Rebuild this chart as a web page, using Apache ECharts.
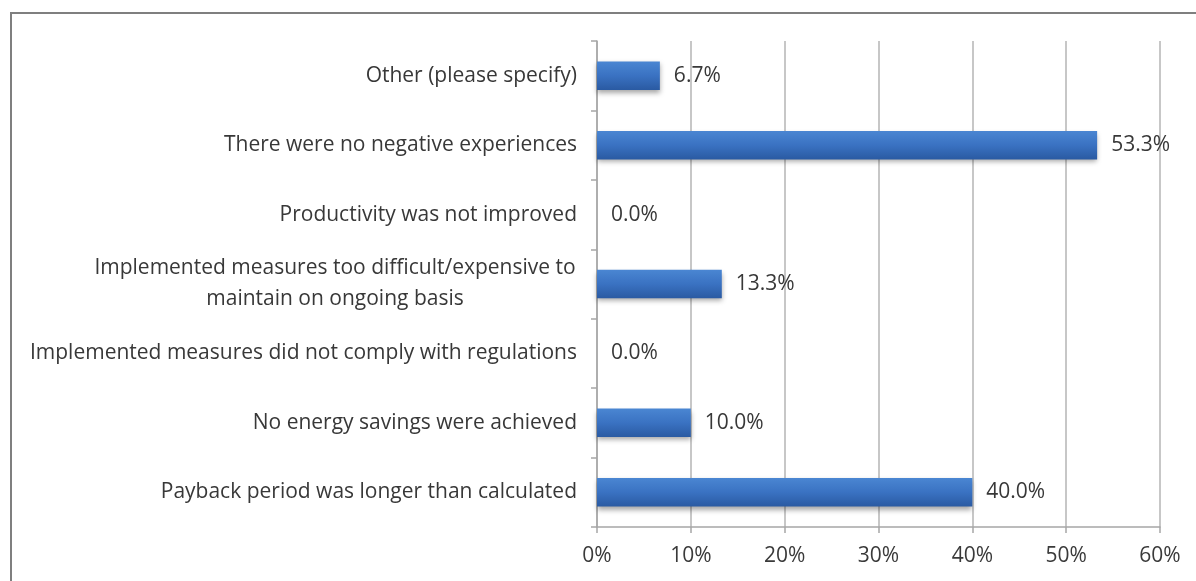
<!DOCTYPE html>
<html><head><meta charset="utf-8">
<script src="https://cdn.jsdelivr.net/npm/echarts@6/dist/echarts.min.js"></script>
<style>
html,body{margin:0;padding:0;background:#fff;}
#c{width:1196px;height:581px;position:absolute;left:0;top:0;}
#frame{position:absolute;left:10px;top:12px;width:1200px;height:600px;border-left:2px solid #7f7f7f;border-top:2px solid #7f7f7f;pointer-events:none;}
</style></head>
<body>
<div id="c"></div>
<div id="frame"></div>
<script>
const categories = [
  "Other (please specify)",
  "There were no negative experiences",
  "Productivity was not improved",
  "Implemented measures too difficult/expensive to\nmaintain on ongoing basis",
  "Implemented measures did not comply with regulations",
  "No energy savings were achieved",
  "Payback period was longer than calculated"
];
const values = [6.7, 53.3, 0.0, 13.3, 0.0, 10.0, 40.0];
const xTicks = [0, 10, 20, 30, 40, 50, 60];

const FONT = "Open Sans";
const FS = 21;
const cv = document.createElement('canvas').getContext('2d');
cv.font = FS + 'px "' + FONT + '"';
function w(s){ return Math.ceil(cv.measureText(s).width) + 2; }

const chart = echarts.init(document.getElementById('c'));
chart.setOption({
  animation: false,
  grid: {left: 597, right: 36, top: 41, bottom: 54},
  xAxis: {
    type: 'value', min: xTicks[0], max: xTicks[xTicks.length-1], interval: 10,
    axisLine: {show: true, lineStyle: {color: '#a6a6a6', width: 1.5}},
    axisTick: {show: true, length: 6, lineStyle: {color: '#a6a6a6', width: 1.5}},
    splitLine: {show: true, lineStyle: {color: '#b4b4b4', width: 1.5}},
    axisLabel: {formatter: v => v + '%', color: '#3a3a3a', fontFamily: FONT, fontSize: 21, margin: 19}
  },
  yAxis: {
    type: 'category', data: categories, inverse: true,
    axisLine: {show: true, lineStyle: {color: '#a6a6a6', width: 1.5}},
    axisTick: {show: true, length: 6, lineStyle: {color: '#a6a6a6', width: 1.5}},
    axisLabel: {
      color: '#383838', fontFamily: FONT, fontSize: FS, margin: 20, lineHeight: 31,
      formatter: function(v){
        if (v.indexOf('\n') >= 0) {
          return v.split('\n').map(l => '{c|' + l + '}').join('\n');
        }
        return v;
      },
      rich: {c: {width: 0, align: 'center', color: '#383838', fontFamily: FONT, fontSize: FS, lineHeight: 31}}
    }
  },
  series: [{
    type: 'bar', data: values, barWidth: '41%',
    itemStyle: {
      color: new echarts.graphic.LinearGradient(0,0,0,1,[
        {offset:0, color:'#4a86d2'},{offset:0.5, color:'#3a72c2'},{offset:1, color:'#2a5aa2'}]),
      shadowColor: 'rgba(0,0,0,0.35)', shadowBlur: 5, shadowOffsetY: 3
    },
    label: {show: true, position: 'right', distance: 14, formatter: p => p.value.toFixed(1) + '%',
      color: '#383838', fontFamily: FONT, fontSize: FS}
  }]
});
const ml = categories.find(c => c.indexOf('\n') >= 0).split('\n');
const W = Math.max.apply(null, ml.map(w));
chart.setOption({yAxis: {axisLabel: {rich: {c: {width: W}}}}});
</script>
</body></html>
